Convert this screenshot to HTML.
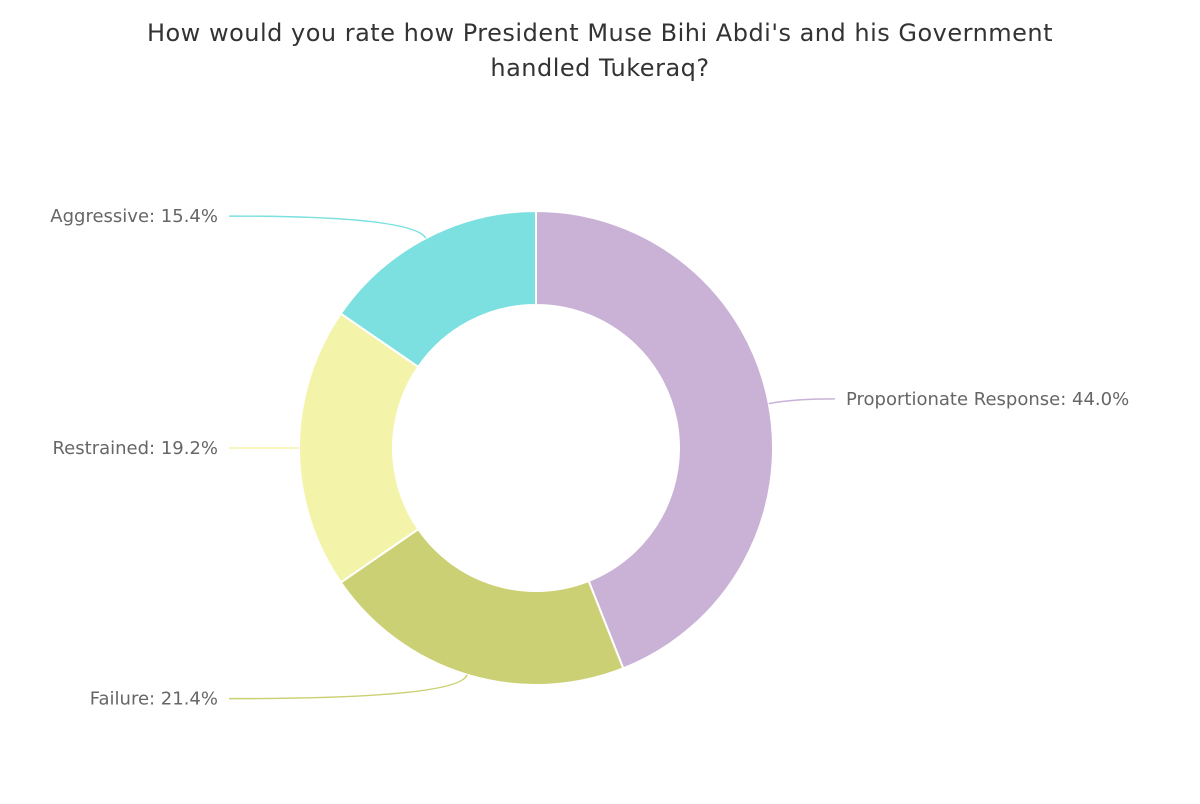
<!DOCTYPE html>
<html><head><meta charset="utf-8"><style>
body{margin:0;background:#fff;width:1200px;height:800px;overflow:hidden;font-family:"DejaVu Sans","Liberation Sans",sans-serif}
</style></head><body>
<svg id="chart" width="1200" height="800" xmlns="http://www.w3.org/2000/svg">
<text x="600" y="41" text-anchor="middle" font-size="24" fill="#333" letter-spacing="0.5">How would you rate how President Muse Bihi Abdi's and his Government</text>
<text x="600" y="76" text-anchor="middle" font-size="24" fill="#333" letter-spacing="0.5">handled Tukeraq?</text>
<g id="slices"></g><g id="labels"></g>
</svg>
<script>
const categories=["Proportionate Response","Failure","Restrained","Aggressive"];
const values=[44.0,21.4,19.2,15.4];
const colors=["#cab2d6","#ccd074","#f3f4a9","#7be0df"];
const labelText=["Proportionate Response: 44.0%","Failure: 21.4%","Restrained: 19.2%","Aggressive: 15.4%"];
const cx=536,cy=448,R=237,r=143;
const NS="http://www.w3.org/2000/svg";
const total=values.reduce((a,b)=>a+b,0);
const pt=(a,rad)=>[cx+rad*Math.sin(a),cy-rad*Math.cos(a)];
let a0=0;
const sg=document.getElementById('slices'),lg=document.getElementById('labels');
values.forEach((v,i)=>{
 const a1=a0+v/total*2*Math.PI,large=(a1-a0)>Math.PI?1:0;
 const p1=pt(a0,R),p2=pt(a1,R),p3=pt(a1,r),p4=pt(a0,r);
 const p=document.createElementNS(NS,'path');
 p.setAttribute('d',`M${p1}A${R},${R} 0 ${large} 1 ${p2}L${p3}A${r},${r} 0 ${large} 0 ${p4}Z`);
 p.setAttribute('fill',colors[i]);p.setAttribute('stroke','#fff');p.setAttribute('stroke-width','2');
 
 
 sg.appendChild(p);
 const m=(a0+a1)/2,s=pt(m,R),e=pt(m,R+25);
 const right=Math.sin(m)>=0;
 const ex=right?e[0]+Math.max(0,835-e[0]-(right?0:0)):e[0];
 const lx=right?Math.max(e[0]+10,835):Math.min(e[0]-10,229);
 const ly=e[1];
 const l=document.createElementNS(NS,'path');
 l.setAttribute('d',`M${s}Q${e} ${lx},${ly}`);
 l.setAttribute('fill','none');l.setAttribute('stroke',colors[i]);l.setAttribute('stroke-width','1.5');
 
 
 lg.appendChild(l);
 const t=document.createElementNS(NS,'text');
 t.setAttribute('x',right?lx+11:lx-11);t.setAttribute('y',ly+6);
 t.setAttribute('text-anchor',right?'start':'end');
 t.setAttribute('font-size','18');t.setAttribute('fill','#666');
 t.textContent=labelText[i];
 
 
 lg.appendChild(t);
 a0=a1;
});
</script>
</body></html>
